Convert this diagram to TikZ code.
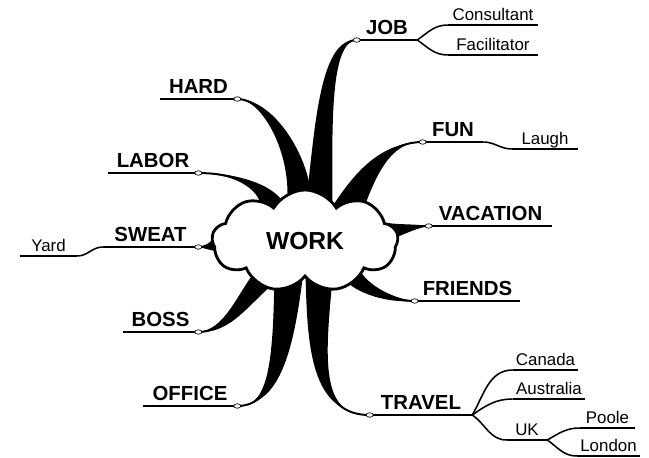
\documentclass[tikz,border=0pt]{standalone}
\usepackage{fontspec}
\setmainfont{Liberation Sans}
\usetikzlibrary{shapes.geometric, shapes.symbols, calc, backgrounds}

\begin{document}
\begin{tikzpicture}[x=0.025cm, y=-0.025cm,
    big/.style={anchor=south, inner xsep=0pt, inner ysep=0.125cm, text depth=0pt,
                font=\bfseries\fontsize{14.5}{17}\selectfont, minimum width=#1*0.025cm},
    small/.style={big=#1, inner ysep=0.1cm, font=\fontsize{12}{14}\selectfont},
    dot/.style={ellipse, draw, fill=white, inner sep=0pt, minimum width=0.18cm,
                minimum height=0.11cm, line width=0.5pt},
    stem/.style={line width=1.4pt},
    twig/.style={line width=1.1pt},
    uline/.style={line width=1.5pt}]
\useasboundingbox (0,0) rectangle (649,458);

\node[cloud, cloud puffs=9, cloud puff arc=120, cloud ignores aspect, draw, fill=white,
      line width=2pt, minimum width=4.65cm, minimum height=2.55cm,
      font=\bfseries\fontsize{17.5}{20}\selectfont] (work) at (305,241) {WORK};

% main topics
\node[big=60]  (job)      at (387,40)    {JOB};
\node[big=77]  (hard)     at (198.5,99)  {HARD};
\node[big=90]  (labor)    at (153,173)   {LABOR};
\node[big=95]  (sweat)    at (150.5,247) {SWEAT};
\node[big=75]  (boss)     at (160.5,332) {BOSS};
\node[big=94]  (office)   at (190,406)   {OFFICE};
\node[big=60]  (fun)      at (453,142)   {FUN};
\node[big=123] (vacation) at (490.5,226) {VACATION};
\node[big=105] (friends)  at (467.5,301) {FRIENDS};
\node[big=102] (travel)   at (421,415)   {TRAVEL};

% sub topics
\node[small=90] (cons)      at (493,25)    {Consultant};
\node[small=90] (faci)      at (493,55)    {Facilitator};
\node[small=66] (laugh)     at (545,149)   {Laugh};
\node[small=57] (yard)      at (48.5,256)  {Yard};
\node[small=65] (canada)    at (545.5,370) {Canada};
\node[small=72] (australia) at (549,399)   {Australia};
\node[small=40] (uk)        at (527,440)   {UK};
\node[small=55] (poole)     at (607.5,428) {Poole};
\node[small=63] (london)    at (608.5,456) {London};

\foreach \n in {job,hard,labor,sweat,boss,office,fun,vacation,friends,travel}
  \draw[uline] (\n.south west) -- (\n.south east);
\foreach \n in {cons,faci,laugh,yard,canada,australia,uk,poole,london}
  \draw[twig] (\n.south west) -- (\n.south east);

% tapered branches out of the cloud
\begin{scope}[on background layer]
\foreach \ea/\eb/\px/\py/\qx/\qy/\t in {
    87/56/324/120/326/40/job.south west,
    110/84/295/145/265/99/hard.south east,
    138/120/258/182/228/173/labor.south east,
    186/180/210/247/205/247/sweat.south east,
    214/232/240/305/225/332/boss.south east,
    238/266/282/370/270/406/office.south east,
    271/298/316/360/318/415/travel.south west,
    316/330/370/293/395/301/friends.south west,
    3/12/403/229/415/226/vacation.south west,
    52/33/370/165/390/142/fun.south west}{
  \path (work.\ea) coordinate (b1) (work.\eb) coordinate (b2)
        ($(b1)!.5!(b2)$) coordinate (b0);
  \fill (b1) .. controls ($(\px,\py)+0.667*(b1)-0.667*(b0)$)
                   and ($(\qx,\qy)+0.333*(b1)-0.333*(b0)$) .. (\t)
             .. controls ($(\qx,\qy)-0.333*(b1)+0.333*(b0)$)
                   and ($(\px,\py)-0.667*(b1)+0.667*(b0)$) .. (b2)
        -- (work.center) -- cycle;
  \draw[stem] (b0) .. controls (\px,\py) and (\qx,\qy) .. (\t);
}
\end{scope}

\draw[twig] (job.south east) to[out=35,in=180] (cons.south west);
\draw[twig] (job.south east) to[out=-35,in=180] (faci.south west);
\draw[twig] (fun.south east) to[out=0,in=180] (laugh.south west);
\draw[twig] (sweat.south west) to[out=180,in=0] (yard.south east);
\draw[twig] (travel.south east) to[out=60,in=180] (canada.south west);
\draw[twig] (travel.south east) to[out=35,in=180] (australia.south west);
\draw[twig] (travel.south east) to[out=-35,in=180] (uk.south west);
\draw[twig] (uk.south east) to[out=30,in=180] (poole.south west);
\draw[twig] (uk.south east) to[out=-35,in=180] (london.south west);

\foreach \n/\s in {job/west,hard/east,labor/east,sweat/east,boss/east,office/east,
                   fun/west,vacation/west,friends/west,travel/west}
  \node[dot] (\n-dot) at (\n.south \s) {};
\end{tikzpicture}
\end{document}
